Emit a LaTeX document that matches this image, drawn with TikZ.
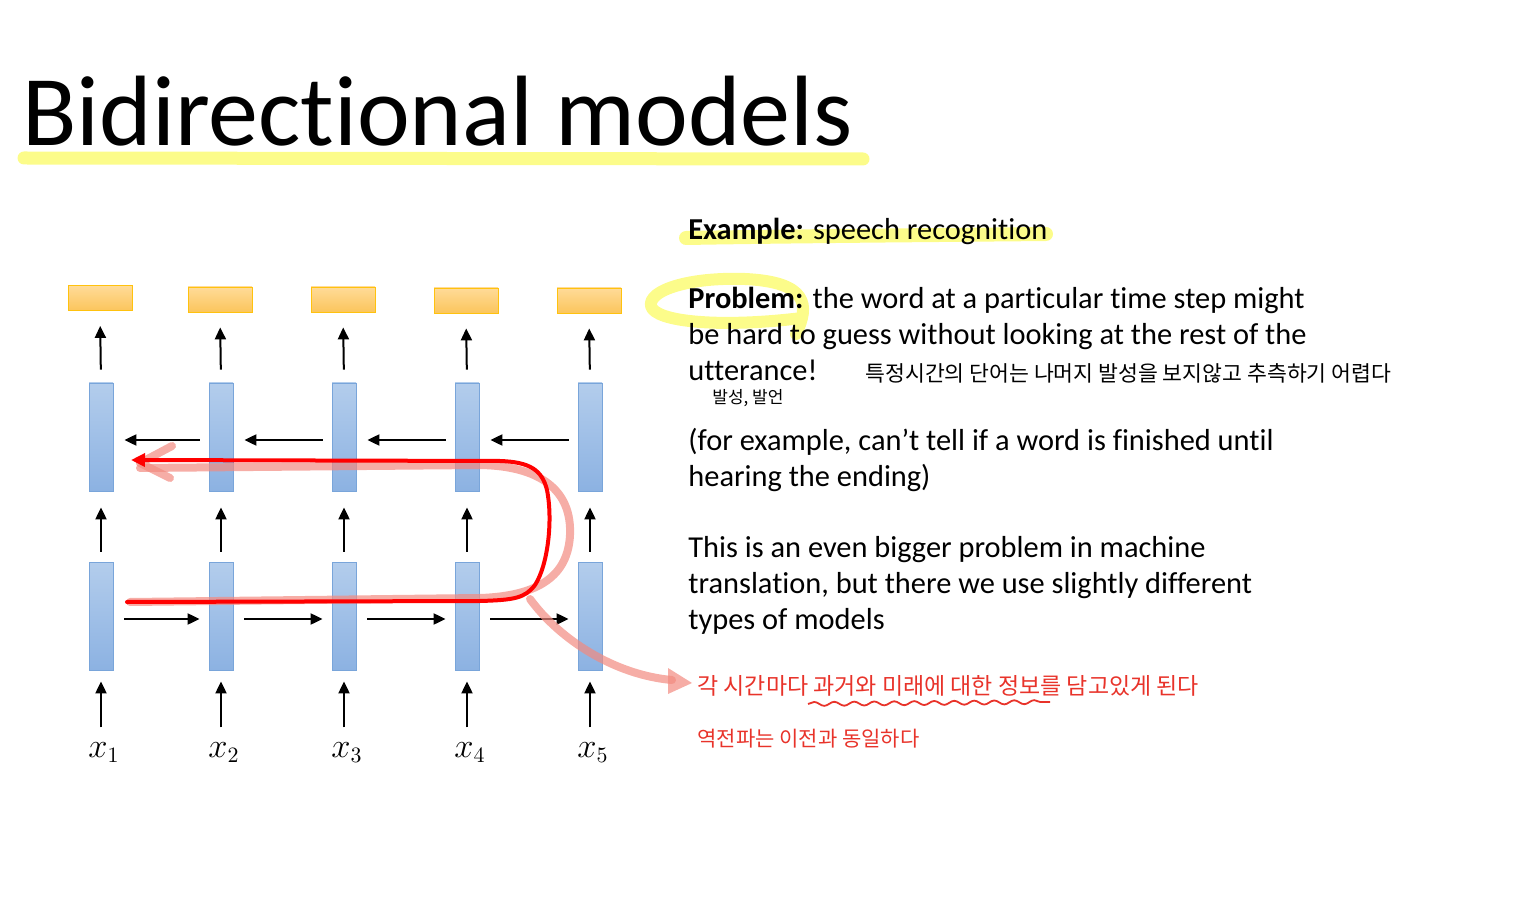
\documentclass[tikz,border=0pt]{standalone}
\usepackage{fontspec}
\setmainfont[Ligatures=NoCommon]{Carlito}
\newfontfamily\kor{Noto Sans CJK KR}
\usetikzlibrary{arrows.meta,decorations.pathmorphing}
\definecolor{blueT}{HTML}{B3CDEC}
\definecolor{blueB}{HTML}{8CB2E2}
\definecolor{blueD}{HTML}{79A5DA}
\definecolor{orT}{HTML}{FFDB98}
\definecolor{orB}{HTML}{FBC55C}
\definecolor{orD}{HTML}{FFC20E}
\definecolor{hiY}{HTML}{FCFC8A}
\definecolor{penR}{HTML}{E8332A}
\definecolor{pinkP}{HTML}{F28A80}
\begin{document}
\begin{tikzpicture}[x=0.5pt,y=-0.5pt,
  hid/.style={draw=blueD, line width=0.4pt, top color=blueT, bottom color=blueB, minimum width=12pt, minimum height=54pt, inner sep=0pt},
  outbox/.style={draw=orD, line width=0.4pt, top color=orT, bottom color=orB, minimum width=32pt, minimum height=12.5pt, inner sep=0pt},
  arr/.style={-{Triangle[length=6pt,width=5.5pt]}, line width=1pt},
  body/.style={anchor=base west, inner sep=0pt, font=\fontsize{15.2}{18}\selectfont},
  hand/.style={anchor=base west, inner sep=0pt, font=\kor\fontsize{11.5}{14}\selectfont},
  xlab/.style={anchor=base, inner sep=0pt, font=\fontsize{16}{18}\selectfont},
  hilite/.style={draw=hiY, line cap=round, line join=round}
]
\useasboundingbox (0,0) rectangle (1536,914);

% title
\draw[hilite, line width=6.5pt] (24,158) -- (863,159);
\node[anchor=base west, inner sep=0pt, font=\fontsize{50}{60}\selectfont] (title) at (22,146) {Bidirectional models};

% highlights on the right
\draw[hilite, line width=7pt] (686,238) .. controls (800,236) and (950,235) .. (1046,234);
\draw[hilite, line width=6pt] (796,334) .. controls (810,305) and (808,282) .. (745,279)
  .. controls (690,277) and (648,290) .. (651,306) .. controls (655,322) and (720,328) .. (802,318);

% diagram nodes
\foreach \i/\x/\oy in {1/101/298,2/221/299.5,3/344/299.5,4/467/300.5,5/590/300.5}{
  \node[outbox] (o\i) at (\x-1,\oy) {};
  \node[hid] (h\i) at (\x,437) {};
  \node[hid] (g\i) at (\x,616) {};
  \node[xlab] (x\i) at (\x+3,757) {$x_{\i}$};
}
\foreach \i in {1,...,5}{
  \draw[arr, shorten <=6.5pt, shorten >=7.5pt] (h\i.north) -- (o\i.south);
  \draw[arr, shorten <=5pt, shorten >=8pt] (g\i.north) -- (h\i.south);
  \coordinate (xa\i) at ([yshift=-28.5pt]g\i.south);
  \draw[arr, shorten >=5.5pt] (xa\i) -- (g\i.south);
}
\foreach \i/\j in {1/2,2/3,3/4,4/5}{
  \draw[arr, shorten <=4.5pt, shorten >=5.5pt] ([yshift=-1.5pt]h\j.west) -- ([yshift=-1.5pt]h\i.east);
  \draw[arr, shorten <=5.5pt, shorten >=4.5pt] ([yshift=-1.5pt]g\i.east) -- ([yshift=-1.5pt]g\j.west);
}

% pink translucent strokes
\begin{scope}[draw=pinkP, opacity=0.7, line width=4pt, line cap=round, line join=round]
\draw (172,446) -- (140,463) -- (170,478);
\draw (140,468) -- (480,465) .. controls (540,466) and (572,490) .. (570,535)
  .. controls (568,575) and (540,596) .. (480,598) -- (130,602);
\draw (530,599) .. controls (560,640) and (615,675) .. (672,680);
\end{scope}
\fill[pinkP, opacity=0.7] (692,683) -- (668,668) -- (668,694) -- cycle;

% red path
\draw[red, line width=2pt, line cap=round, line join=round, -{Triangle[length=7pt,width=6.5pt]}]
  (127,602) -- (480,601) .. controls (515,600) and (525,598) .. (535,585)
  .. controls (548,565) and (553,520) .. (547,490)
  .. controls (542,470) and (530,462) .. (500,461) -- (131,460);

% right text
\node[body] (ex) at (688,240) {\textbf{Example:} speech recognition};
\node[body] (p1) at (688,309) {\textbf{Problem:} the word at a particular time step might};
\node[body] (p2) at (688,345) {be hard to guess without looking at the rest of the};
\node[body] (p3) at (688,381) {utterance!};
\node[body] (q1) at (688,451) {(for example, can’t tell if a word is finished until};
\node[body] (q2) at (688,487) {hearing the ending)};
\node[body] (r1) at (688,557) {This is an even bigger problem in machine};
\node[body] (r2) at (688,593) {translation, but there we use slightly different};
\node[body] (r3) at (688,629) {types of models};

% handwritten notes
\node[hand, font=\kor\fontsize{10.8}{14}\selectfont] (k1) at (865,382) {특정시간의 단어는 나머지 발성을 보지않고 추측하기 어렵다};
\node[hand, font=\kor\fontsize{8.5}{10}\selectfont] (k2) at (712,403) {발성, 발언};
\node[hand, text=penR] (k3) at (697,694) {각 시간마다 과거와 미래에 대한 정보를 담고있게 된다};
\node[hand, text=penR, font=\kor\fontsize{10.5}{12}\selectfont] (k4) at (697,746) {역전파는 이전과 동일하다};
\draw[penR, line width=0.9pt, decorate, decoration={snake, amplitude=1pt, segment length=10pt}]
  (808,704) -- (1050,702);
\end{tikzpicture}
\end{document}
